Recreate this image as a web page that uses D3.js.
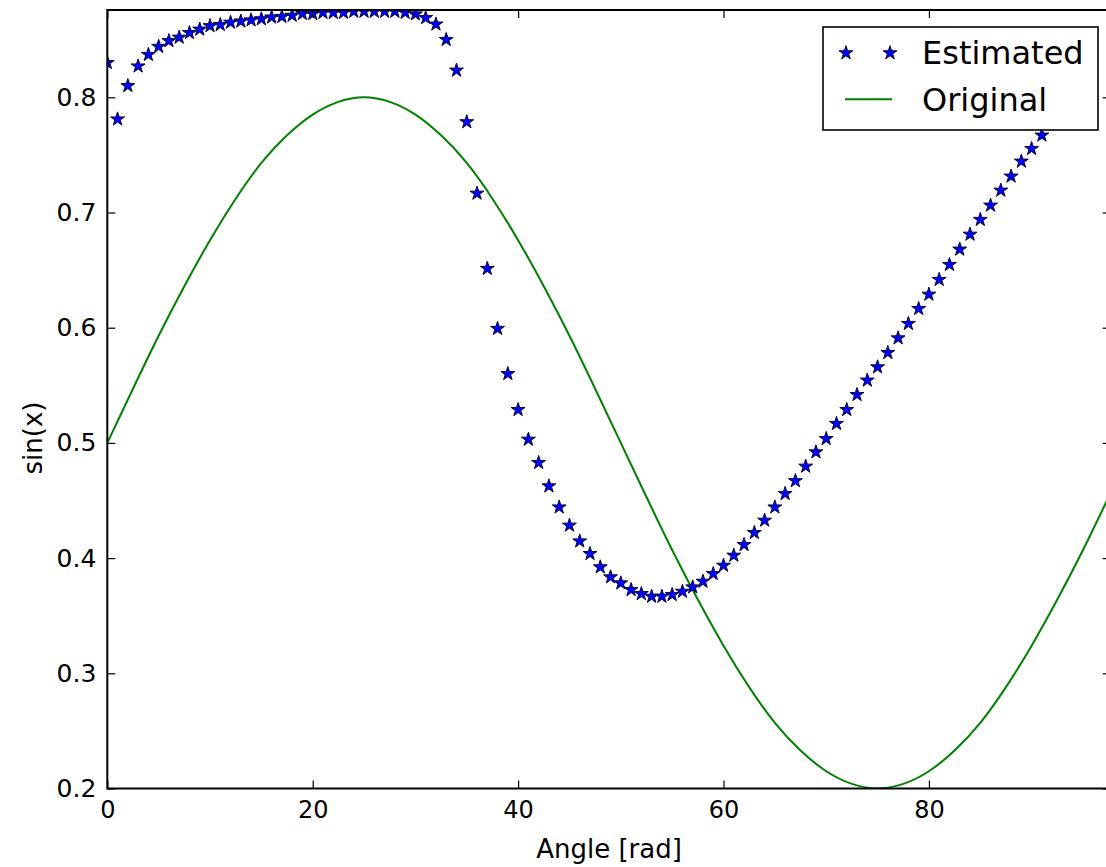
<!DOCTYPE html>
<html>
<head>
<meta charset="utf-8">
<script src="https://cdn.jsdelivr.net/npm/d3@7"></script>
<style>
  html, body { margin: 0; padding: 0; background: #fff; }
  svg { display: block; font-family: "DejaVu Sans", sans-serif; }
</style>
</head>
<body>
<svg id="chart" width="1106" height="867"></svg>
<script>
// ---- data ----
const estimatedValues = [
  0.830, 0.781, 0.810, 0.827, 0.837, 0.844, 0.849, 0.852, 0.856, 0.859,
  0.862, 0.863, 0.865, 0.866, 0.867, 0.868, 0.8695, 0.870, 0.871, 0.8725,
  0.8725, 0.8735, 0.8735, 0.8735, 0.8745, 0.8745, 0.8745, 0.8745, 0.8745, 0.8735,
  0.8722, 0.869, 0.8634, 0.850, 0.8234, 0.7786, 0.7166, 0.6513, 0.5992, 0.560,
  0.5288, 0.503, 0.4828, 0.4625, 0.4442, 0.4284, 0.4147, 0.4038, 0.3922, 0.3835,
  0.3783, 0.3725, 0.369, 0.3667, 0.3667, 0.3682, 0.371, 0.3748, 0.3797, 0.3864,
  0.3936, 0.4023, 0.4116, 0.422, 0.4327, 0.4442, 0.4559, 0.4670, 0.4796, 0.492,
  0.5036, 0.5167, 0.5288, 0.5418, 0.5543, 0.5658, 0.5783, 0.591, 0.6035, 0.6165,
  0.6289, 0.6417, 0.6547, 0.668, 0.681, 0.6938, 0.7062, 0.7192, 0.7314, 0.7444,
  0.7554, 0.767
];
const originalX = [0, 2.5, 5, 7.5, 10, 12.5, 15, 17.5, 20, 22.5, 25, 27.5, 30, 32.5, 35, 37.5,
  40, 42.5, 45, 47.5, 50, 52.5, 55, 57.5, 60, 62.5, 65, 67.5, 70, 72.5, 75, 77.5,
  80, 82.5, 85, 87.5, 90, 92.5, 95, 97.5];
const originalY = [0.500, 0.547, 0.593, 0.636, 0.676, 0.712, 0.743, 0.767, 0.785, 0.796,
  0.800, 0.796, 0.785, 0.767, 0.743, 0.712, 0.676, 0.636, 0.593, 0.547,
  0.500, 0.453, 0.407, 0.364, 0.324, 0.288, 0.257, 0.233, 0.215, 0.204,
  0.200, 0.204, 0.215, 0.233, 0.257, 0.288, 0.324, 0.364, 0.407, 0.453];
const xTicks = [0, 20, 40, 60, 80];
const yTicks = [0.2, 0.3, 0.4, 0.5, 0.6, 0.7, 0.8];
const xLabel = "Angle [rad]";
const yLabel = "sin(x)";
const seriesNames = ["Estimated", "Original"];

// ---- layout ----
const pLeft = 107.3, pRight = 1110.7, pTop = 10, pBottom = 788.5;
const svg = d3.select("#chart");
svg.append("rect").attr("width", 1106).attr("height", 867).attr("fill", "#fff");

const x = d3.scaleLinear().domain([0, 97.7]).range([pLeft, pRight]);
const y = d3.scaleLinear().domain([0.2, 0.8758]).range([pBottom, pTop]);

svg.append("clipPath").attr("id", "clip")
  .append("rect").attr("x", pLeft).attr("y", pTop)
  .attr("width", pRight - pLeft).attr("height", pBottom - pTop);

const plot = svg.append("g").attr("clip-path", "url(#clip)");

// Original line
const origData = originalX.map((d, i) => [d, originalY[i]]);
plot.append("path")
  .datum(origData)
  .attr("fill", "none")
  .attr("stroke", "#008000")
  .attr("stroke-width", 2)
  .attr("d", d3.line().x(d => x(d[0])).y(d => y(d[1])).curve(d3.curveNatural));

// Estimated stars
const star = d3.symbol().type(d3.symbolStar).size(60);
plot.selectAll("path.est")
  .data(estimatedValues)
  .enter().append("path")
  .attr("class", "est")
  .attr("d", star)
  .attr("transform", (d, i) => `translate(${x(i)},${y(d)})`)
  .attr("fill", "#0000ff")
  .attr("stroke", "#0a0a30")
  .attr("stroke-width", 1);

// Axes
const tickFont = "24px";
const gx = svg.append("g").attr("transform", `translate(0,${pBottom})`)
  .call(d3.axisBottom(x).tickValues(xTicks).tickSize(-8).tickPadding(12).tickFormat(d3.format("d")));
const gy = svg.append("g").attr("transform", `translate(${pLeft},0)`)
  .call(d3.axisLeft(y).tickValues(yTicks).tickSize(-8).tickPadding(11).tickFormat(d3.format(".1f")));
const gt = svg.append("g").attr("transform", `translate(0,${pTop})`)
  .call(d3.axisTop(x).tickValues(xTicks).tickSize(-8).tickFormat(""));
const gr = svg.append("g").attr("transform", `translate(${pRight},0)`)
  .call(d3.axisRight(y).tickValues(yTicks).tickSize(-8).tickFormat(""));

[gx, gy, gt, gr].forEach(g => {
  g.select(".domain").remove();
  g.selectAll(".tick line").attr("stroke", "#000").attr("stroke-width", 1.2);
  g.selectAll(".tick text").attr("fill", "#000").style("font-size", tickFont)
    .style("font-family", "'DejaVu Sans', sans-serif");
});
gy.selectAll(".tick text").style("font-size", "25px");

// Frame
svg.append("rect")
  .attr("x", pLeft).attr("y", pTop)
  .attr("width", pRight - pLeft).attr("height", pBottom - pTop)
  .attr("fill", "none").attr("stroke", "#000").attr("stroke-width", 2);

// Axis labels
svg.append("text")
  .attr("x", (pLeft + pRight) / 2).attr("y", 858)
  .attr("text-anchor", "middle")
  .style("font-size", "26px")
  .text(xLabel);
svg.append("text")
  .attr("transform", `translate(42,438) rotate(-90)`)
  .attr("text-anchor", "middle")
  .style("font-size", "26px")
  .text(yLabel);

// Legend
const lg = svg.append("g");
lg.append("rect")
  .attr("x", 823).attr("y", 27).attr("width", 275).attr("height", 103)
  .attr("fill", "#fff").attr("stroke", "#000").attr("stroke-width", 1.6);
[846, 890].forEach(cx => {
  lg.append("path").attr("d", star)
    .attr("transform", `translate(${cx},53)`)
    .attr("fill", "#0000ff").attr("stroke", "#0a0a30").attr("stroke-width", 1);
});
lg.append("line")
  .attr("x1", 845).attr("x2", 892).attr("y1", 99.3).attr("y2", 99.3)
  .attr("stroke", "#008000").attr("stroke-width", 2);
lg.append("text").attr("x", 922).attr("y", 64).style("font-size", "32px").text(seriesNames[0]);
lg.append("text").attr("x", 922).attr("y", 110.5).style("font-size", "32px").text(seriesNames[1]);
</script>
</body>
</html>
